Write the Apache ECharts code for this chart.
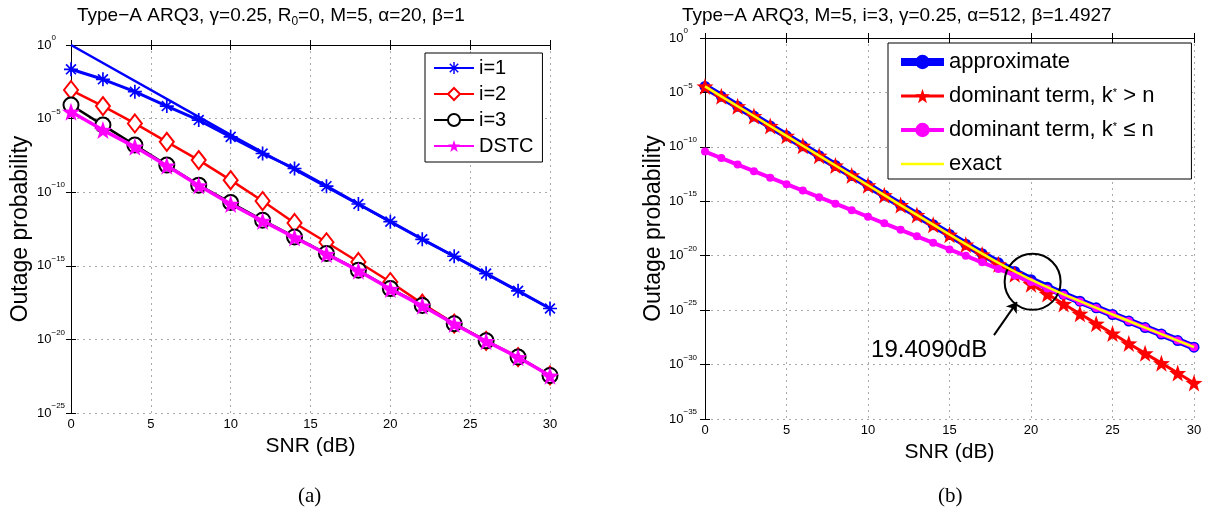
<!DOCTYPE html>
<html><head><meta charset="utf-8">
<script src="https://cdn.jsdelivr.net/npm/echarts@6/dist/echarts.min.js"></script>
<style>html,body{margin:0;padding:0;background:#fff}#c{width:1220px;height:524px}</style>
</head><body><div id="c"></div>
<script>
// ---------- data (y values are log10 of outage probability; y axes are decade axes) ----------
const snrA = [0,2,4,6,8,10,12,14,16,18,20,22,24,26,28,30];
const asymX = [0,10,30];
const asymExp = [0,-6.1,-17.9];
const i1Exp = [-1.65,-2.33,-3.17,-4.15,-5.1,-6.24,-7.37,-8.39,-9.59,-10.8,-12.0,-13.2,-14.35,-15.53,-16.7,-17.9];
const i2Exp = [-3.06,-4.15,-5.33,-6.58,-7.82,-9.18,-10.6,-12.09,-13.4,-14.74,-16.1,-17.57,-18.93,-20.1,-21.2,-22.45];
const i3Exp = [-4.08,-5.44,-6.8,-8.16,-9.52,-10.7,-11.9,-13.04,-14.17,-15.3,-16.55,-17.69,-18.93,-20.1,-21.2,-22.45];
const dstcExp = [-4.54,-5.78,-6.92,-8.2,-9.55,-10.8,-11.95,-13.08,-14.2,-15.33,-16.58,-17.72,-18.95,-20.12,-21.22,-22.47];

const snrB = [0,1,2,3,4,5,6,7,8,9,10,11,12,13,14,15,16,17,18,19,20,21,22,23,24,25,26,27,28,29,30];
const approxExp = [-4.45,-5.36,-6.27,-7.17,-8.08,-8.99,-9.90,-10.81,-11.71,-12.62,-13.53,-14.44,-15.35,-16.25,-17.15,-18.05,-18.94,-19.81,-20.65,-21.45,-22.20,-22.89,-23.55,-24.18,-24.79,-25.40,-26.00,-26.60,-27.20,-27.80,-28.40];
const domHighExp = [-4.45,-5.36,-6.27,-7.17,-8.08,-8.99,-9.90,-10.81,-11.71,-12.62,-13.53,-14.44,-15.35,-16.25,-17.16,-18.07,-18.98,-19.89,-20.79,-21.70,-22.61,-23.52,-24.43,-25.33,-26.24,-27.15,-28.06,-28.97,-29.87,-30.78,-31.69];
const domLowExp = [-10.43,-11.03,-11.63,-12.23,-12.83,-13.43,-14.02,-14.62,-15.22,-15.82,-16.42,-17.02,-17.62,-18.22,-18.82,-19.42,-20.01,-20.61,-21.21,-21.81,-22.41,-23.01,-23.61,-24.21,-24.81,-25.41,-26.00,-26.60,-27.20,-27.80,-28.40];
const exactExp = [-4.45,-5.36,-6.27,-7.17,-8.08,-8.99,-9.90,-10.81,-11.71,-12.62,-13.53,-14.44,-15.35,-16.25,-17.15,-18.05,-18.94,-19.81,-20.65,-21.45,-22.20,-22.89,-23.55,-24.18,-24.79,-25.40,-26.00,-26.60,-27.20,-27.80,-28.40];

const xRange = [0, 30, 5];          // min, max, step
const yRangeA = [-25, 0, 5];        // decades
const yRangeB = [-35, 0, 5];
const namesA = ['i=1','i=2','i=3','DSTC'];
const namesB = ['approximate','dominant term, k* > n','dominant term, k* \u2264 n','exact'];
// annotation (data coordinates: SNR, decade)
const circleAt = [20.1, -22.4];
const arrowFrom = [17.73, -27.3];
const arrowTo = [19.14, -24.26];
const crossLabel = '19.4090dB';
const crossLabelAt = [13.75, -28.7];

// ---------- helpers ----------
const FONT = '"Liberation Sans", Arial, Helvetica, sans-serif';
const pairs = (xs, ys) => xs.map((x, i) => [x, ys[i]]);
const ASTER = 'path://M-10,-1.2 L10,-1.2 L10,1.2 L-10,1.2 Z M-1.2,-10 L1.2,-10 L1.2,10 L-1.2,10 Z M-6.2,-7.9 L7.9,6.2 L6.2,7.9 L-7.9,-6.2 Z M6.2,-7.9 L7.9,-6.2 L-6.2,7.9 L-7.9,6.2 Z';
const STAR = 'path://M0,-10 L2.35,-3.24 L9.51,-3.09 L3.8,1.24 L5.88,8.09 L0,4 L-5.88,8.09 L-3.8,1.24 L-9.51,-3.09 L-2.35,-3.24 Z';

function decFmt(v) {
  const e = Math.round(v);
  return '{b|10}{s|' + (e === 0 ? '0' : '\u2212' + (-e)) + '}';
}
const yRich = {
  b: {fontSize: 13, fontFamily: FONT, color: '#000', lineHeight: 22},
  s: {fontSize: 8, fontFamily: FONT, color: '#000', lineHeight: 8, verticalAlign: 'top'}
};
const gridLine = {show: true, lineStyle: {color: '#aaa', type: [2, 4], width: 1}};
const axLine = {show: true, lineStyle: {color: '#000', width: 1}};
const tick = {show: true, inside: true, length: 5, lineStyle: {color: '#000'}};

function xAxes(gi, nameGap) {
  return [
    {type: 'value', gridIndex: gi, min: xRange[0], max: xRange[1], interval: xRange[2], position: 'bottom',
     axisLine: axLine, axisTick: tick, splitLine: gridLine,
     axisLabel: {fontSize: 13, fontFamily: FONT, color: '#000', margin: 5},
     name: 'SNR (dB)', nameLocation: 'middle', nameGap: nameGap,
     nameTextStyle: {fontSize: 21, fontFamily: FONT, color: '#000'}},
    {type: 'value', gridIndex: gi, min: xRange[0], max: xRange[1], interval: xRange[2], position: 'top',
     axisLine: axLine, axisTick: tick, splitLine: {show: false}, axisLabel: {show: false}}
  ];
}
function yAxes(gi, yr, margin) {
  return [
    {type: 'value', gridIndex: gi, min: yr[0], max: yr[1], interval: yr[2], position: 'left',
     axisLine: axLine, axisTick: tick, splitLine: gridLine,
     axisLabel: {formatter: decFmt, rich: yRich, align: 'left', margin: margin},
     name: 'Outage probability', nameLocation: 'middle', nameGap: 39,
     nameTextStyle: {fontSize: 23, fontFamily: FONT, color: '#000'}},
    {type: 'value', gridIndex: gi, min: yr[0], max: yr[1], interval: yr[2], position: 'right',
     axisLine: axLine, axisTick: tick, splitLine: {show: false}, axisLabel: {show: false}}
  ];
}

const option = {
  animation: false,
  backgroundColor: '#fff',
  title: [
    {text: '{t|Type\u2212A ARQ3, \u03b3=0.25, R}{d|0}{t|=0, M=5, \u03b1=20, \u03b2=1}', left: 77, top: 4, padding: 0,
     textStyle: {fontWeight: 'normal', rich: {t: {fontSize: 19, fontFamily: FONT, color: '#000', fontWeight: 'normal', lineHeight: 24},
                        d: {fontSize: 12, fontFamily: FONT, color: '#000', fontWeight: 'normal', lineHeight: 10, verticalAlign: 'bottom'}}}},
    {text: 'Type\u2212A ARQ3, M=5, i=3, \u03b3=0.25, \u03b1=512, \u03b2=1.4927', left: 682, top: 4, padding: 0,
     textStyle: {fontSize: 19, fontFamily: FONT, color: '#000', fontWeight: 'normal', lineHeight: 24}}
  ],
  grid: [
    {left: 71, top: 45, width: 479, height: 368},
    {left: 705, top: 38, width: 489, height: 381}
  ],
  xAxis: [...xAxes(0, 18), ...xAxes(1, 22)],
  yAxis: [...yAxes(0, yRangeA, 34), ...yAxes(1, yRangeB, 36)],
  legend: [
    {data: namesA, orient: 'vertical', left: 425, top: 53, itemWidth: 40, itemHeight: 15, itemGap: 6,
     padding: [5, 9, 6, 8], borderColor: '#000', borderWidth: 1, backgroundColor: '#fff',
     textStyle: {fontSize: 20, fontFamily: FONT, color: '#000', lineHeight: 15}},
    {data: [
       {name: namesB[0], lineStyle: {width: 8}},
       {name: namesB[1], lineStyle: {width: 3}},
       {name: namesB[2], lineStyle: {width: 4}},
       {name: namesB[3], lineStyle: {width: 2.5}, itemStyle: {color: 'rgba(0,0,0,0)', borderWidth: 0}}
     ], orient: 'vertical', left: 888, top: 43, itemWidth: 43, itemHeight: 18, itemGap: 12,
     padding: [8, 37, 4, 9], borderColor: '#000', borderWidth: 1, backgroundColor: '#fff',
     formatter: function (name) {
       if (name.indexOf('k*') >= 0) {
         const p = name.split('k*');
         return '{t|' + p[0] + 'k}{u|*}{t|' + p[1] + '}';
       }
       return '{t|' + name + '}';
     },
     textStyle: {fontSize: 22, fontFamily: FONT, color: '#000',
       rich: {t: {fontSize: 22, fontFamily: FONT, color: '#000', lineHeight: 18},
              u: {fontSize: 11, fontFamily: FONT, color: '#000', lineHeight: 6, verticalAlign: 'top'}}}}
  ],
  series: [
    {name: 'asymptote', type: 'line', xAxisIndex: 0, yAxisIndex: 0, z: 2, data: pairs(asymX, asymExp),
     symbol: 'none', lineStyle: {color: '#0000ff', width: 2.5}, itemStyle: {color: '#0000ff'}},
    {name: namesA[0], type: 'line', xAxisIndex: 0, yAxisIndex: 0, z: 3, data: pairs(snrA, i1Exp),
     symbol: ASTER, symbolSize: 14, lineStyle: {color: '#0000ff', width: 3}, itemStyle: {color: '#0000ff'}},
    {name: namesA[1], type: 'line', xAxisIndex: 0, yAxisIndex: 0, z: 4, data: pairs(snrA, i2Exp),
     symbol: 'emptyDiamond', symbolSize: [14, 18], lineStyle: {color: '#ff0000', width: 2.5}, itemStyle: {color: '#ff0000', borderWidth: 2}},
    {name: namesA[2], type: 'line', xAxisIndex: 0, yAxisIndex: 0, z: 5, data: pairs(snrA, i3Exp),
     symbol: 'emptyCircle', symbolSize: 15, lineStyle: {color: '#000', width: 2.5}, itemStyle: {color: '#000', borderWidth: 2}},
    {name: namesA[3], type: 'line', xAxisIndex: 0, yAxisIndex: 0, z: 6, data: pairs(snrA, dstcExp),
     symbol: STAR, symbolSize: 18, lineStyle: {color: '#ff00ff', width: 3.5}, itemStyle: {color: '#ff00ff'}},

    {name: namesB[0], type: 'line', xAxisIndex: 2, yAxisIndex: 2, z: 2, data: pairs(snrB, approxExp),
     symbol: 'circle', symbolSize: 11, lineStyle: {color: '#0000ff', width: 7}, itemStyle: {color: '#0000ff'}},
    {name: namesB[1], type: 'line', xAxisIndex: 2, yAxisIndex: 2, z: 3, data: pairs(snrB, domHighExp),
     symbol: STAR, symbolSize: 17, lineStyle: {color: '#ff0000', width: 3}, itemStyle: {color: '#ff0000'}},
    {name: namesB[2], type: 'line', xAxisIndex: 2, yAxisIndex: 2, z: 4, data: pairs(snrB, domLowExp),
     symbol: 'circle', symbolSize: 8, lineStyle: {color: '#ff00ff', width: 4}, itemStyle: {color: '#ff00ff'}},
    {name: namesB[3], type: 'line', xAxisIndex: 2, yAxisIndex: 2, z: 5, data: pairs(snrB, exactExp),
     symbol: 'none', lineStyle: {color: '#ffff00', width: 2.5}, itemStyle: {color: '#ffff00'},
     markPoint: {silent: true, animation: false, data: [
       {coord: circleAt, symbol: 'circle', symbolSize: 56,
        itemStyle: {color: 'rgba(0,0,0,0)', borderColor: '#000', borderWidth: 2}, label: {show: false}},
       {coord: crossLabelAt, symbol: 'circle', symbolSize: 1,
        itemStyle: {color: 'rgba(0,0,0,0)'},
        label: {show: true, position: 'inside', formatter: crossLabel, fontSize: 24, fontFamily: FONT, color: '#000'}}
     ]},
     markLine: {silent: true, animation: false, symbol: ['none', 'arrow'], symbolSize: 10,
       lineStyle: {color: '#000', width: 2, type: 'solid'}, label: {show: false},
       data: [[{coord: arrowFrom}, {coord: arrowTo}]]}}
  ],
  graphic: [
    {type: 'text', left: 298, top: 486, style: {text: '(a)', fontSize: 21, fontFamily: '"Liberation Serif", "DejaVu Serif", serif', fill: '#000'}},
    {type: 'text', left: 938, top: 486, style: {text: '(b)', fontSize: 21, fontFamily: '"Liberation Serif", "DejaVu Serif", serif', fill: '#000'}}
  ]
};
const chart = echarts.init(document.getElementById('c'), null, {renderer: 'canvas'});
chart.setOption(option);
</script></body></html>
